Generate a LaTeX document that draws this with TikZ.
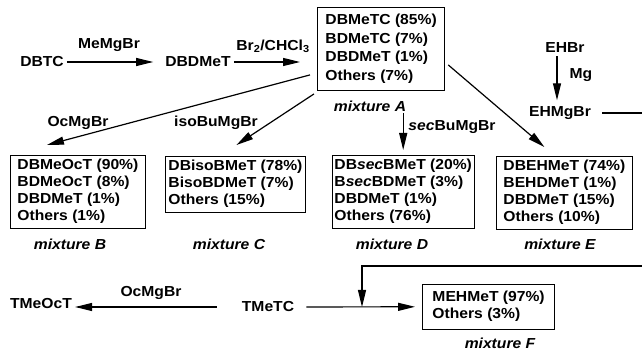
\documentclass[tikz,border=0pt]{standalone}
\usepackage{fontspec}
\setmainfont{Liberation Sans}[FakeStretch=1.08]
\usetikzlibrary{arrows.meta,calc}
\newcommand{\chem}{\fontsize{14.5}{17}\selectfont\bfseries}
\newcommand{\chemwide}{\fontsize{14.5}{18.5}\selectfont\bfseries}
\tikzset{
  rxn/.style={line width=1.2pt,-{Triangle[length=17pt,width=8pt]}},
  feed/.style={line width=1.2pt},
  chemtxt/.style={inner sep=3pt,font=\chem},
  mixbox/.style={draw,line width=0.9pt,align=left,anchor=north west,
    inner xsep=7pt,inner ysep=4pt,font=\chem},
  mixlabel/.style={inner sep=1pt,font=\chem\itshape}
}
\begin{document}
\begin{tikzpicture}[x=1pt,y=-1pt]
  \useasboundingbox (0,0) rectangle (642,352);
  \node[chemtxt] (dbtc) at (42,62) {DBTC};
  \node[chemtxt] (memgbr) at (109,45) {MeMgBr};
  \node[chemtxt] (dbdmet) at (198,62) {DBDMeT};
  \node[chemtxt] (brlab) at (273,46) {Br\textsubscript{2}/CHCl\textsubscript{3}};
  \node[mixbox,inner xsep=8pt,inner ysep=7pt,font=\chemwide] (boxA) at (317,7)
    {DBMeTC (85\%)\\BDMeTC (7\%)\\DBDMeT (1\%)\\Others (7\%)};
  \node[mixlabel] (mixA) at (370,106) {mixture A};
  \node[chemtxt] (ehbr) at (565,48) {EHBr};
  \node[chemtxt] (mg) at (581,75) {Mg};
  \node[chemtxt] (ehmgbr) at (560,113) {EHMgBr};
  \coordinate (edgeA) at (642,113);
  \node[chemtxt] (ocmgbr) at (78,123) {OcMgBr};
  \node[chemtxt] (isobu) at (216,123) {isoBuMgBr};
  \node[chemtxt] (secbu) at (452,127) {\textit{sec}BuMgBr};
  \node[mixbox] (boxB) at (10,155)
    {DBMeOcT (90\%)\\BDMeOcT (8\%)\\DBDMeT (1\%)\\Others (1\%)};
  \node[mixbox,inner xsep=3pt] (boxC) at (165,156)
    {DBisoBMeT (78\%)\\BisoBDMeT (7\%)\\Others (15\%)};
  \node[mixbox,inner xsep=2pt] (boxD) at (332,155)
    {DB\textit{sec}BMeT (20\%)\\B\textit{sec}BDMeT (3\%)\\DBDMeT (1\%)\\Others (76\%)};
  \node[mixbox] (boxE) at (496,156)
    {DBEHMeT (74\%)\\BEHDMeT (1\%)\\DBDMeT (15\%)\\Others (10\%)};
  \foreach \nm/\x/\lab in {mixB/70/B,mixC/229/C,mixD/392/D,mixE/560/E}{%
    \node[mixlabel] (\nm) at (\x,244) {mixture \lab};
  }
  \node[chemtxt] (tmeoct) at (41,304) {TMeOcT};
  \node[chemtxt] (ocmgbrb) at (151,293) {OcMgBr};
  \node[chemtxt] (tmetc) at (268,307) {TMeTC};
  \node[mixbox,inner xsep=10pt,inner ysep=7pt] (boxF) at (422,284)
    {MEHMeT (97\%)\\Others (3\%)};
  \node[mixlabel] (mixF) at (500,343) {mixture F};
  \coordinate (edgeB) at (642,266);
  \coordinate (join) at (362,307);
  \draw[rxn,shorten >=9pt] (dbtc) -- (dbdmet);
  \draw[rxn,shorten >=17pt] (dbdmet) -- (dbdmet -| boxA.west);
  \draw[rxn,shorten >=3pt] ([shift={(-8,0)}]ehbr.south) -- ([shift={(-8,0)}]ehbr.south |- ehmgbr.north);
  \draw[feed] ([shift={(8,0)}]ehmgbr.east) -- (edgeA);
  \draw[rxn] ([shift={(-7,-16)}]boxA.south west) -- ([shift={(-31,-10)}]boxB.north);
  \draw[rxn] ([shift={(-3,3)}]boxA.south west) -- ([shift={(1,-11)}]boxC.north);
  \draw[rxn] ([shift={(0,-42)}]boxD.north) -- ([shift={(0,-5)}]boxD.north);
  \draw[rxn] ([shift={(3,16)}]boxA.east) -- ([shift={(-20,-9)}]boxE.north);
  \draw[rxn] ([shift={(-22,0)}]tmetc.west) -- (tmetc.west -| tmeoct.east);
  \draw[rxn,shorten <=9pt,shorten >=7pt] (tmetc) -- (boxF);
  \draw[rxn] (edgeB) -| (join);
\end{tikzpicture}
\end{document}
